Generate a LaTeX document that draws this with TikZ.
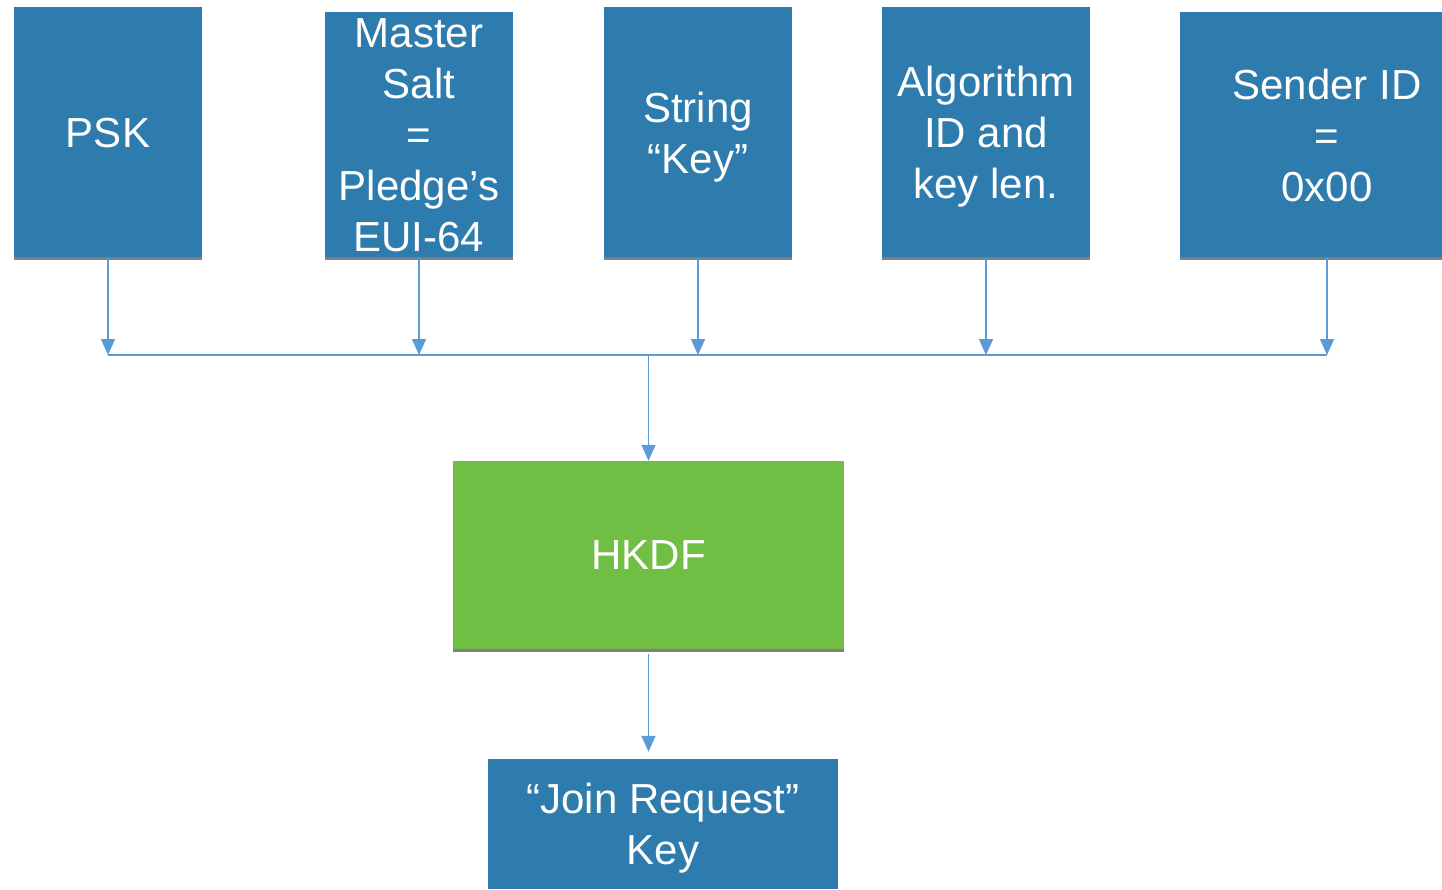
\documentclass[tikz,border=0pt]{standalone}
\usepackage{fontspec}
\setmainfont{Liberation Sans}
\usepackage{tikz}
\usepackage{xcolor}
\usetikzlibrary{arrows.meta}
\definecolor{tilebl}{HTML}{2E7BAE}
\definecolor{tilegr}{HTML}{70BF44}
\definecolor{wirebl}{HTML}{5B9BD5}
\definecolor{shadegr}{HTML}{7F7F7F}

\begin{document}
\begin{tikzpicture}[x=1pt,y=-1pt,
		tile/.style={fill=tilebl,text=white,inner sep=0pt,text depth=0pt,align=center,font=\fontsize{42}{51}\selectfont},
		wire/.style={draw=wirebl,line width=1.5pt},
		feed/.style={wire,-{Triangle[width=14pt,length=16pt]}}]
		\useasboundingbox (0,0) rectangle (1442,889);
		%
		% inputs of the key derivation
		\node[tile,minimum width=188pt,minimum height=251pt] (psk) at (108,132.5) {PSK};
		\node[tile,minimum width=188pt,minimum height=246pt] (salt) at (419,135) {Master\\Salt\\=\\Pledge’s\\EUI-64};
		\node[tile,minimum width=188pt,minimum height=251pt] (str) at (698,132.5) {String\\“Key”};
		\node[tile,minimum width=208pt,minimum height=251pt] (alg) at (986,132.5) {Algorithm\\ID and\\key len.};
		\node[tile,minimum width=294pt,minimum height=246pt] (sid) at (1327,135) {Sender ID\\=\\0x00};
		%
		% derivation and result
		\node[tile,fill=tilegr,minimum width=391pt,minimum height=189pt] (hkdf) at (648.5,555.5) {HKDF};
		\node[tile,minimum width=350pt,minimum height=130pt] (jrk) at (663,824) {“Join Request”\\Key};
		%
		\coordinate (bus) at (0,355);
		\foreach \nm in {psk,salt,str,alg,sid,hkdf}
			\draw [shadegr,line width=3pt] (\nm.south west) -- (\nm.south east);
		\foreach \nm in {psk,salt,str,alg,sid}
			\draw [feed] (\nm.south) -- (\nm.south |- bus);
		\draw [wire] (psk.south |- bus) -- (sid.south |- bus);
		\draw [feed] (hkdf.north |- bus) -- (hkdf.north);
		\draw [feed,shorten <=4pt,shorten >=7pt] (hkdf.south) -- (jrk.north -| hkdf.south);
	\end{tikzpicture}
\end{document}
